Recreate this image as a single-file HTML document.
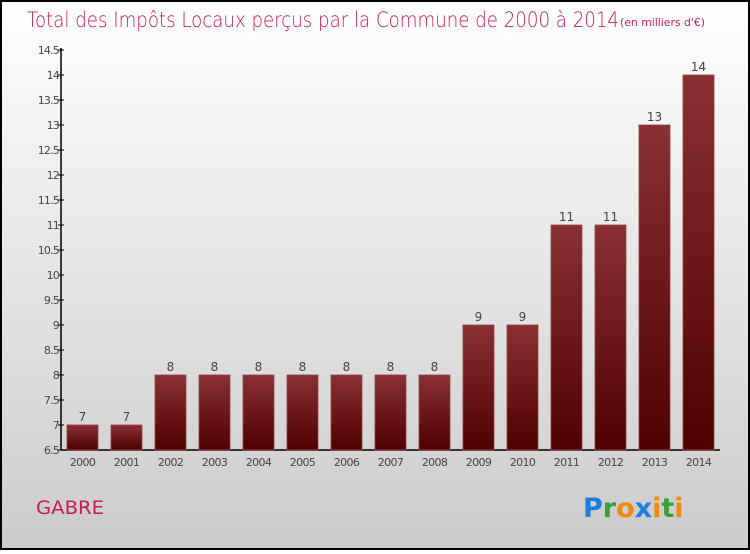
<!DOCTYPE html>
<html><head><meta charset="utf-8"><style>
body{margin:0;width:750px;height:550px;overflow:hidden;font-family:"DejaVu Sans","Liberation Sans",sans-serif}
</style></head><body>
<svg width="750" height="550" xmlns="http://www.w3.org/2000/svg">
<defs>
<linearGradient id="bg" x1="0" y1="0" x2="0" y2="1"><stop offset="0" stop-color="#ffffff"/><stop offset="1" stop-color="#cbcbcb"/></linearGradient>
<linearGradient id="bar" x1="0" y1="0" x2="0" y2="1"><stop offset="0" stop-color="#8a3034"/><stop offset="1" stop-color="#4e0000"/></linearGradient>
</defs>
<rect x="1" y="1" width="748" height="548" fill="url(#bg)" stroke="#000" stroke-width="2"/>
<text x="27" y="27" font-size="21" fill="#c41e55" font-family="'DejaVu Sans ExtraLight','DejaVu Sans',sans-serif" font-weight="200" textLength="592" lengthAdjust="spacingAndGlyphs">Total des Impôts Locaux perçus par la Commune de 2000 à 2014</text>
<text x="620" y="26" font-size="11" fill="#c41e55" font-family="'DejaVu Sans ExtraLight','DejaVu Sans',sans-serif" textLength="85" lengthAdjust="spacingAndGlyphs">(en milliers d'€)</text>
<g id="yaxis"></g>
<g id="bars"></g>
<text x="36" y="514" font-size="19" fill="#c41e55" font-family="'DejaVu Sans ExtraLight','DejaVu Sans',sans-serif" textLength="68" lengthAdjust="spacingAndGlyphs">GABRE</text>
<g font-size="27" font-weight="bold" font-family="'DejaVu Sans',sans-serif">
<text x="583" y="517"><tspan fill="#1e7fd8">P</tspan><tspan fill="#3aa03a">r</tspan><tspan fill="#f08a10">o</tspan><tspan fill="#1e7fd8">x</tspan><tspan fill="#f08a10">i</tspan><tspan fill="#3aa03a">t</tspan><tspan fill="#f08a10">i</tspan></text>
</g>
</svg>
<script>
const years=["2000","2001","2002","2003","2004","2005","2006","2007","2008","2009","2010","2011","2012","2013","2014"];
const values=[7,7,8,8,8,8,8,8,8,9,9,11,11,13,14];
const yTicks=[6.5,7,7.5,8,8.5,9,9.5,10,10.5,11,11.5,12,12.5,13,13.5,14,14.5];
const NS="http://www.w3.org/2000/svg";
const y=v=>450-(v-6.5)*50;
const x=i=>67+i*44;
const LF="'DejaVu Sans ExtraLight','DejaVu Sans',sans-serif";
function mk(t,a,p,txt){const e=document.createElementNS(NS,t);for(const k in a)e.setAttribute(k,a[k]);if(txt!=null)e.textContent=txt;p.appendChild(e);return e;}
const ya=document.getElementById('yaxis'),bg=document.getElementById('bars');
let ax=mk('line',{x1:61,y1:48,x2:61,y2:450,stroke:'#000','stroke-width':1.5},ya);

let bx=mk('line',{x1:61,y1:450,x2:720,y2:450,stroke:'#000','stroke-width':1.5},ya);

yTicks.forEach(v=>{
 let l=mk('line',{x1:58,y1:y(v),x2:64,y2:y(v),stroke:'#000'},ya);
 
 let t=mk('text',{x:59,y:y(v)+4,'font-size':11,fill:'#444','text-anchor':'end','letter-spacing':'-0.8','font-family':LF},ya,String(v));
 
});
values.forEach((v,i)=>{
 let r=mk('rect',{x:x(i),y:y(v),width:31,height:450-y(v),fill:'url(#bar)',stroke:'#9a4044','stroke-width':0.8},bg);
 
 let t=mk('text',{x:x(i)+15.5,y:y(v)-4,'font-size':12,fill:'#444','text-anchor':'middle','font-family':LF},bg,String(v));
 
 let xl=mk('text',{x:x(i)+15.5,y:466,'font-size':11,fill:'#444','text-anchor':'middle','letter-spacing':'-0.6','font-family':LF},bg,years[i]);
 
});
</script>
</body></html>
